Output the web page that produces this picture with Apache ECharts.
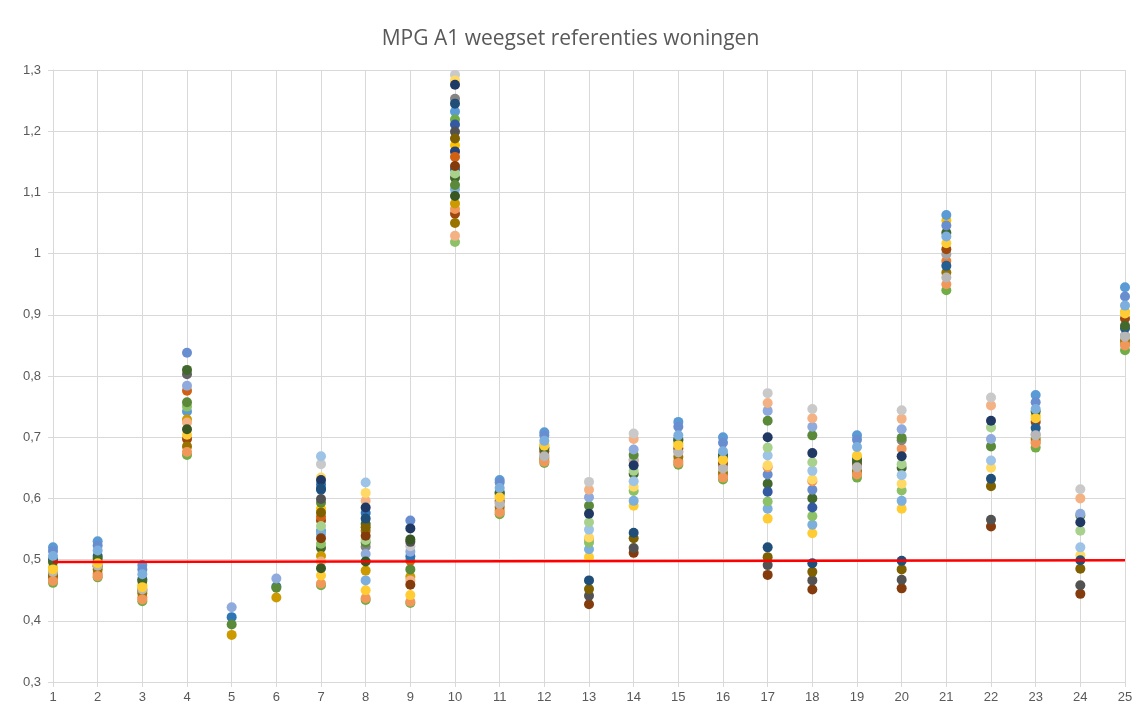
<!DOCTYPE html>
<html>
<head>
<meta charset="utf-8">
<title>MPG A1 weegset referenties woningen</title>
<script src="https://cdn.jsdelivr.net/npm/echarts@6/dist/echarts.min.js"></script>
<style>
  html, body { margin: 0; padding: 0; background: #fff; }
  #chart { width: 1141px; height: 711px; }
</style>
</head>
<body>
<div id="chart"></div>
<script>
const _ = null;

// x positions 1..25
const xValues = [1, 2, 3, 4, 5, 6, 7, 8, 9, 10, 11, 12, 13, 14, 15, 16, 17, 18, 19, 20, 21, 22, 23, 24, 25];

// one array per x position, one entry per series (36 series, Excel palette order)
const x1 = [_, .468, .479, .487, .520, .462,  _, .473, _, .476, .500, .496,  .514, .465, .480, .484, .506, _,  _, _, _, _, _, _,  _, _, _, _, _, _,  _, _, _, _, _, _];
const x2 = [_, .477, .491, .497, .530, .471,  _, .489, _, .484, .506, .502,  .523, .473, .490, .494, .515, _,  _, _, _, _, _, _,  _, _, _, _, _, _,  _, _, _, _, _, _];
const x3 = [_, .438, .452, .458, .491, .432,  _, .449, _, .445, .468, .465,  .484, .435, .451, .455, .476, _,  _, _, _, _, _, _,  _, _, _, _, _, _,  _, _, _, _, _, _];
const x4 = [_, _, _, _, .742, .671,  _, .697, .803, .685, _, .810,  .838, .676, _, .704, _, .750,  _, .776, _, .729, _, .757,  .784, .724, _, _, _, _,  _, _, _, _, _, .713];
const x5 = [_, _, _, _, _, _,  _, _, _, _, _, _,  _, _, _, _, _, _,  _, _, _, .377, .406, .394,  .422, _, _, _, _, _,  _, _, _, _, _, _];
const x6 = [_, _, _, _, _, _,  _, _, _, _, _, _,  _, _, _, _, _, _,  _, _, _, .438, .456, .454,  .469, _, _, _, _, _,  _, _, _, _, _, _];
const x7 = [_, _, _, .583, .547, .458,  _, .564, _, _, .614, .519,  _, .461, _, .474, .542, .526,  _, .570, _, .506, .623, .593,  _, .497, .656, .634, .669, .555,  .630, .535, .599, .577, .616, .486];
const x8 = [_, _, _, _, _, .434,  _, _, _, .547, _, .558,  _, .437, _, .450, .466, _,  _, _, .521, .482, .576, .528,  .509, .596, _, .609, .626, .532,  .585, .539, _, .553, .567, .497];
const x9 = [_, _, _, _, _, .429,  _, _, _, _, _, _,  .564, .431, _, .442, _, _,  _, .498, _, .472, .505, .484,  .513, .466, .522, _, _, _,  .551, .459, .529, _, _, .533];
const x10 = [_, _, _, 1.177, 1.232, 1.219,  1.167, 1.065, _, 1.050, _, 1.124,  _, 1.073, _, _, 1.105, 1.019,  1.211, 1.158, 1.253, 1.082, 1.138, 1.112,  _, 1.029, 1.292, 1.283, _, 1.131,  1.276, 1.143, 1.199, 1.188, 1.245, 1.094];
const x11 = [_, .580, .593, .604, .630, .574,  _, .596, _, .586, .610, .608,  .626, .577, .591, .602, .617, _,  _, _, _, _, _, _,  _, _, _, _, _, _,  _, _, _, _, _, _];
const x12 = [_, .662, .671, .688, .708, .658,  _, .677, _, .666, .683, .681,  .703, .660, .669, .686, .694, _,  _, _, _, _, _, _,  _, _, _, _, _, _,  _, _, _, _, _, _];
const x13 = [_, _, _, _, _, _,  _, _, _, _, _, _,  _, .533, _, .504, .517, .528,  _, _, _, _, _, .588,  .602, .614, .627, .536, .549, .561,  .575, .427, .441, .452, .466, _];
const x14 = [_, _, _, _, _, _,  _, _, _, _, _, .640,  _, .661, .664, .588, .596, .612,  _, _, _, _, _, .671,  .680, .697, .706, .619, .628, .645,  .654, .511, .519, .535, .544, _];
const x15 = [_, .661, .677, .690, .725, .655,  _, .682, _, .668, .697, .695,  .717, .658, .675, .687, .703, _,  _, _, _, _, _, _,  _, _, _, _, _, _,  _, _, _, _, _, _];
const x16 = [_, .637, .651, .666, .700, .631,  _, .657, _, .642, .671, .669,  .691, .634, .649, .663, .677, _,  _, _, _, _, _, _,  _, _, _, _, _, _,  _, _, _, _, _, _];
const x17 = [_, _, _, _, _, _,  _, _, _, _, _, .624,  .639, .651, _, .567, .583, .595,  .611, _, _, _, _, .727,  .743, .756, .772, .654, .670, .683,  .700, .475, .491, .504, .520, _];
const x18 = [_, _, _, _, _, _,  _, _, _, _, _, .600,  .614, .628, _, .543, .557, .571,  .585, _, _, _, _, .703,  .717, .731, .746, .631, .645, .659,  .674, .451, .466, .480, .494, _];
const x19 = [_, .641, .653, .667, .703, .634,  _, .657, _, .645, .663, .661,  .696, .639, .651, .670, .684, _,  _, _, _, _, _, _,  _, _, _, _, _, _,  _, _, _, _, _, _];
const x20 = [_, _, _, _, _, _,  _, _, _, _, _, .650,  _, .681, _, .583, .596, .613,  _, _, .695, _, _, .699,  .713, .730, .744, .624, .638, .656,  .669, .453, .467, .484, .498, _];
const x21 = [_, .988, .999, 1.054, 1.063, .940,  _, 1.007, _, .969, .980, 1.034,  1.046, .950, .961, 1.017, 1.028, _,  _, _, _, _, _, _,  _, _, _, _, _, _,  _, _, _, _, _, _];
const x22 = [_, _, _, _, _, _,  _, _, _, _, _, _,  _, _, _, _, _, _,  _, _, _, _, _, .685,  .697, .752, .765, .650, .662, .716,  .727, .554, .565, .620, .632, _];
const x23 = [_, .692, .705, .735, .769, .683,  _, .725, _, .697, .715, .742,  .757, .690, .703, .731, .746, _,  _, _, _, _, _, _,  _, _, _, _, _, _,  _, _, _, _, _, _];
const x24 = [_, _, _, _, _, _,  _, _, _, _, _, _,  _, _, _, _, _, _,  _, _, _, _, _, .572,  .575, .600, .615, .507, .520, .547,  .561, .444, .458, .485, .499, _];
const x25 = [_, .852, .866, .905, .945, .842,  _, .894, _, .858, .878, .882,  .930, .850, .864, .902, .915, _,  _, _, _, _, _, _,  _, _, _, _, _, _,  _, _, _, _, _, _];

// red reference line, value at x = 1 and x = 25
const baseline = [0.496, 0.499];

const columns = [x1, x2, x3, x4, x5, x6, x7, x8, x9, x10, x11, x12, x13,
  x14, x15, x16, x17, x18, x19, x20, x21, x22, x23, x24, x25];

const palette = [
  '#4472C4', '#ED7D31', '#A5A5A5', '#FFC000', '#5B9BD5', '#70AD47',
  '#264478', '#9E480E', '#636363', '#997300', '#255E91', '#43682B',
  '#698ED0', '#F1975A', '#B7B7B7', '#FFCD33', '#7CAFDD', '#8CC168',
  '#335AA1', '#D26012', '#848484', '#CC9A00', '#2E75B6', '#5A8A39',
  '#8FAADC', '#F4B183', '#C9C9C9', '#FFD966', '#9DC3E6', '#A9D18E',
  '#203864', '#843C0C', '#525252', '#7F6000', '#1F4E79', '#385723'
];

const series = palette.map((color, s) => ({
  name: 'Reeks' + (s + 1),
  type: 'scatter',
  symbol: 'circle',
  symbolSize: 10,
  itemStyle: { color: color, opacity: 1 },
  data: columns.map((col, i) => [xValues[i], col[s]]).filter((p) => p[1] !== null)
}));

series.push({
  name: 'grens',
  type: 'line',
  symbol: 'none',
  z: 10,
  lineStyle: { color: '#FF0000', width: 2.5 },
  data: [[xValues[0], baseline[0]], [xValues[xValues.length - 1], baseline[1]]]
});

const chart = echarts.init(document.getElementById('chart'));
chart.setOption({
  animation: false,
  backgroundColor: '#ffffff',
  textStyle: { fontFamily: 'Liberation Sans, Arial, sans-serif' },
  title: {
    text: 'MPG A1 weegset referenties woningen',
    left: 'center',
    top: 24,
    textStyle: { fontSize: 21, fontWeight: 'normal', color: '#595959', fontFamily: 'Open Sans' }
  },
  grid: { left: 53, right: 16, top: 70, bottom: 29 },
  xAxis: {
    type: 'value',
    min: 1,
    max: 25,
    interval: 1,
    axisLine: { show: true, lineStyle: { color: '#D9D9D9' } },
    axisTick: { show: true, length: 5, lineStyle: { color: '#D9D9D9' } },
    axisLabel: { color: '#595959', fontSize: 13, margin: 9 },
    splitLine: { show: true, lineStyle: { color: '#D9D9D9' } }
  },
  yAxis: {
    type: 'value',
    min: 0.3,
    max: 1.3,
    interval: 0.1,
    axisLine: { show: true, lineStyle: { color: '#D9D9D9' } },
    axisTick: { show: true, length: 5, lineStyle: { color: '#D9D9D9' } },
    axisLabel: {
      color: '#595959',
      fontSize: 13,
      margin: 12,
      formatter: (v) => String(Math.round(v * 10) / 10).replace('.', ',')
    },
    splitLine: { show: true, lineStyle: { color: '#D9D9D9' } }
  },
  series: series
});
</script>
</body>
</html>
